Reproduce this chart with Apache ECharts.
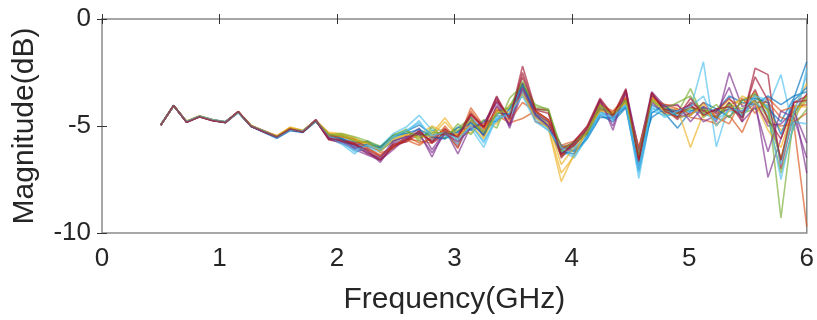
<!DOCTYPE html>
<html>
<head>
<meta charset="utf-8">
<script src="https://cdn.jsdelivr.net/npm/echarts@6/dist/echarts.min.js"></script>
<style>
  html, body { margin: 0; padding: 0; background: #ffffff; }
  #chart { width: 817px; height: 320px; }
</style>
</head>
<body>
<div id="chart"></div>
<script>
// Sweep frequencies (GHz), 0.5 to 6 GHz in 0.11 GHz steps
const freqGHz = [0.50,0.61,0.72,0.83,0.94,1.05,1.16,1.27,1.38,1.49,1.60,1.71,1.82,1.93,2.04,2.15,2.26,2.37,2.48,2.59,2.70,2.81,2.92,3.03,3.14,3.25,3.36,3.47,3.58,3.69,3.80,3.91,4.02,4.13,4.24,4.35,4.46,4.57,4.68,4.79,4.90,5.01,5.12,5.23,5.34,5.45,5.56,5.67,5.78,5.89,6.00];

const xTicks = [0, 1, 2, 3, 4, 5, 6];
const yTicks = [-10, -5, 0];

// Measured magnitude (dB) of each trace
const trace01 = [-4.95,-4.03,-4.82,-4.57,-4.74,-4.85,-4.38,-5.03,-5.30,-5.58,-5.22,-5.30,-4.80,-5.45,-5.55,-5.95,-5.70,-6.05,-5.55,-5.25,-4.95,-5.40,-5.35,-5.30,-4.60,-5.25,-4.70,-4.40,-3.30,-4.30,-5.00,-6.40,-6.10,-5.40,-4.30,-4.70,-4.05,-6.80,-4.00,-4.40,-5.10,-4.30,-4.10,-4.70,-3.90,-4.60,-3.50,-4.20,-4.80,-3.70,-2.00];
const trace02 = [-4.96,-4.06,-4.79,-4.54,-4.71,-4.80,-4.33,-4.98,-5.22,-5.47,-5.12,-5.23,-4.73,-5.50,-5.45,-5.60,-6.00,-6.40,-5.90,-5.60,-5.70,-5.80,-5.00,-5.70,-4.15,-5.00,-4.50,-4.85,-4.65,-4.30,-4.70,-5.90,-5.70,-5.20,-4.05,-4.45,-3.75,-6.20,-3.60,-4.10,-4.30,-4.00,-4.50,-4.40,-4.20,-4.50,-3.90,-4.85,-5.00,-4.90,-9.70];
const trace03 = [-4.94,-4.07,-4.77,-4.52,-4.70,-4.81,-4.36,-4.97,-5.24,-5.45,-5.05,-5.20,-4.72,-5.40,-5.50,-5.70,-5.85,-6.10,-5.75,-5.40,-5.45,-5.35,-4.62,-5.45,-5.00,-5.20,-4.20,-4.50,-3.40,-4.50,-5.10,-7.60,-6.30,-5.10,-4.20,-4.40,-3.70,-6.30,-3.55,-4.30,-4.20,-6.00,-4.40,-4.30,-3.80,-4.00,-3.40,-4.60,-6.50,-4.20,-3.00];
const trace04 = [-4.97,-4.05,-4.81,-4.56,-4.73,-4.84,-4.34,-5.02,-5.27,-5.52,-5.18,-5.27,-4.70,-5.60,-5.70,-5.90,-6.20,-6.70,-5.80,-5.60,-5.30,-6.45,-5.15,-6.30,-5.00,-5.00,-3.65,-5.10,-3.40,-4.60,-4.90,-6.00,-5.80,-5.30,-3.75,-5.20,-3.30,-6.10,-3.40,-4.05,-4.60,-4.40,-4.20,-4.80,-2.50,-4.10,-3.80,-7.40,-5.60,-4.00,-7.20];
const trace05 = [-4.95,-4.04,-4.80,-4.55,-4.72,-4.82,-4.35,-5.01,-5.26,-5.50,-5.15,-5.25,-4.76,-5.35,-5.40,-5.60,-5.80,-6.00,-5.40,-5.20,-5.60,-5.20,-5.45,-5.10,-4.60,-5.50,-4.30,-4.20,-3.00,-4.20,-4.30,-6.30,-5.90,-5.25,-4.10,-4.60,-3.90,-6.60,-3.80,-4.50,-4.40,-3.25,-4.60,-4.20,-4.10,-4.40,-4.20,-4.00,-9.30,-4.50,-3.80];
const trace06 = [-4.93,-4.06,-4.78,-4.53,-4.70,-4.79,-4.37,-4.99,-5.23,-5.53,-5.20,-5.22,-4.77,-5.55,-5.85,-6.30,-5.80,-5.95,-5.35,-5.05,-4.50,-5.20,-5.20,-5.70,-5.10,-6.00,-4.60,-4.30,-3.40,-4.70,-5.20,-6.10,-6.50,-5.50,-4.40,-4.70,-3.95,-7.45,-4.30,-4.50,-4.50,-4.20,-2.00,-5.97,-4.00,-4.50,-3.70,-4.10,-2.60,-5.20,-2.30];
const trace07 = [-4.96,-4.04,-4.83,-4.58,-4.75,-4.83,-4.32,-5.01,-5.28,-5.51,-5.13,-5.28,-4.74,-5.65,-5.75,-5.85,-6.30,-6.55,-6.00,-5.70,-5.20,-5.80,-5.40,-5.40,-4.40,-5.00,-3.60,-4.70,-2.20,-4.20,-4.25,-6.50,-5.70,-5.00,-3.70,-4.50,-3.25,-6.70,-3.45,-4.20,-4.70,-3.90,-4.30,-4.60,-3.90,-4.80,-2.30,-2.60,-7.00,-4.40,-3.50];
const trace08 = [-4.95,-4.05,-4.80,-4.55,-4.71,-4.81,-4.36,-5.00,-5.24,-5.49,-5.16,-5.24,-4.75,-5.50,-5.60,-5.75,-5.95,-6.15,-5.70,-5.50,-5.30,-5.55,-5.55,-5.05,-5.20,-4.75,-4.80,-4.20,-3.00,-4.50,-4.80,-5.90,-6.20,-5.60,-4.60,-4.60,-4.10,-6.30,-4.60,-4.20,-4.30,-4.30,-4.15,-4.30,-3.60,-3.90,-4.00,-3.60,-4.00,-3.60,-3.40];
const trace09 = [-4.96,-4.05,-4.81,-4.56,-4.73,-4.82,-4.34,-5.01,-5.25,-5.51,-5.14,-5.26,-4.74,-5.35,-5.65,-5.80,-5.75,-6.25,-6.05,-5.45,-5.80,-5.60,-5.10,-5.90,-4.70,-5.35,-4.10,-4.90,-3.20,-4.80,-5.00,-6.40,-5.95,-5.15,-4.25,-4.35,-3.70,-6.00,-3.70,-4.00,-4.20,-4.60,-4.70,-4.90,-4.50,-5.30,-3.90,-3.90,-4.60,-4.80,-4.40];
const trace10 = [-4.95,-4.04,-4.79,-4.54,-4.72,-4.83,-4.35,-4.99,-5.26,-5.50,-5.10,-5.24,-4.76,-5.30,-5.35,-5.55,-5.90,-6.05,-5.65,-5.35,-5.40,-5.00,-5.30,-5.45,-5.30,-4.90,-4.90,-4.00,-3.60,-4.40,-4.90,-6.80,-6.00,-5.30,-4.00,-4.50,-3.90,-6.40,-3.80,-4.30,-4.50,-4.10,-4.50,-4.40,-4.00,-3.80,-3.60,-4.30,-5.20,-4.70,-3.60];
const trace11 = [-4.95,-4.06,-4.80,-4.55,-4.73,-4.82,-4.35,-5.00,-5.25,-5.52,-5.17,-5.25,-4.73,-5.60,-5.80,-6.10,-6.35,-6.60,-6.10,-5.55,-5.10,-6.10,-5.25,-6.00,-4.80,-5.45,-4.05,-4.95,-3.00,-4.40,-4.80,-6.10,-5.75,-5.35,-4.15,-4.60,-3.80,-6.30,-3.90,-4.40,-4.30,-4.00,-4.80,-4.50,-4.20,-4.30,-3.80,-5.00,-4.90,-4.30,-5.80];
const trace12 = [-4.94,-4.05,-4.79,-4.54,-4.71,-4.81,-4.35,-5.00,-5.24,-5.49,-5.14,-5.24,-4.76,-5.45,-5.35,-5.50,-5.70,-5.95,-5.50,-5.15,-5.70,-5.05,-5.60,-4.90,-5.40,-4.70,-5.10,-3.70,-3.10,-4.00,-4.25,-6.00,-5.80,-5.40,-4.20,-4.40,-3.80,-6.20,-3.70,-4.25,-4.40,-4.20,-4.20,-4.60,-4.00,-4.20,-3.80,-4.60,-7.20,-5.00,-4.20];
const trace13 = [-4.95,-4.04,-4.80,-4.55,-4.72,-4.82,-4.35,-5.01,-5.26,-5.51,-5.16,-5.26,-4.75,-5.50,-5.70,-6.20,-6.05,-6.20,-5.60,-5.30,-4.75,-5.65,-5.45,-5.85,-4.90,-5.80,-4.50,-4.60,-3.50,-4.60,-5.10,-6.20,-6.00,-5.50,-4.35,-4.55,-4.00,-6.90,-4.20,-4.30,-4.50,-4.30,-4.40,-4.70,-4.30,-4.50,-3.90,-4.40,-7.50,-4.80,-4.90];
const trace14 = [-4.96,-4.04,-4.81,-4.56,-4.73,-4.83,-4.34,-5.01,-5.27,-5.50,-5.16,-5.27,-4.74,-5.60,-5.65,-5.80,-6.10,-6.45,-5.85,-5.75,-5.35,-5.70,-5.15,-5.55,-4.50,-5.10,-3.85,-4.55,-2.70,-4.30,-4.70,-6.30,-5.90,-5.20,-3.90,-4.55,-3.50,-6.50,-3.60,-4.20,-4.40,-4.10,-4.30,-4.30,-3.70,-4.40,-3.30,-4.70,-5.60,-3.90,-3.60];
const trace15 = [-4.95,-4.05,-4.80,-4.56,-4.72,-4.83,-4.36,-5.02,-5.27,-5.54,-5.19,-5.28,-4.77,-5.40,-5.60,-6.05,-5.85,-6.00,-5.45,-5.35,-5.15,-5.50,-5.60,-5.25,-4.85,-5.40,-4.40,-4.45,-3.10,-4.45,-5.05,-6.20,-6.30,-5.55,-4.50,-4.80,-4.15,-7.10,-4.40,-4.00,-4.60,-4.50,-3.90,-4.20,-4.60,-3.80,-3.70,-3.90,-5.40,-3.80,-3.20];
const trace16 = [-4.96,-4.04,-4.79,-4.55,-4.71,-4.81,-4.34,-4.99,-5.23,-5.48,-5.11,-5.24,-4.72,-5.45,-5.50,-5.65,-6.05,-6.35,-5.95,-5.65,-5.90,-5.50,-5.20,-6.05,-4.30,-5.15,-4.25,-4.75,-3.90,-4.30,-4.75,-6.00,-5.85,-5.10,-4.00,-4.30,-3.65,-6.10,-3.70,-4.00,-4.05,-4.50,-3.90,-4.60,-4.90,-3.70,-4.40,-3.70,-4.30,-4.10,-4.00];
const trace17 = [-4.94,-4.06,-4.78,-4.53,-4.71,-4.82,-4.36,-4.98,-5.25,-5.47,-5.07,-5.21,-4.74,-5.35,-5.45,-5.65,-5.80,-6.20,-5.60,-5.40,-5.55,-5.45,-4.80,-5.50,-4.95,-5.60,-4.35,-4.35,-3.50,-4.60,-5.10,-7.20,-6.40,-5.20,-4.30,-4.40,-3.90,-6.20,-3.65,-4.35,-4.60,-4.50,-4.00,-5.00,-4.30,-3.60,-3.90,-5.20,-6.00,-4.10,-4.10];
const trace18 = [-4.96,-4.05,-4.81,-4.56,-4.74,-4.84,-4.34,-5.02,-5.28,-5.52,-5.19,-5.28,-4.71,-5.55,-5.75,-6.00,-6.25,-6.50,-5.70,-5.50,-5.40,-6.25,-5.35,-5.75,-5.10,-4.85,-3.90,-5.00,-3.20,-4.50,-5.00,-6.10,-5.85,-5.15,-3.80,-5.00,-3.40,-6.20,-3.55,-4.10,-4.00,-4.80,-4.10,-4.40,-3.20,-4.80,-4.10,-6.20,-4.30,-4.60,-6.50];
const trace19 = [-4.95,-4.05,-4.80,-4.55,-4.72,-4.82,-4.35,-5.00,-5.25,-5.50,-5.14,-5.25,-4.76,-5.40,-5.45,-5.70,-5.75,-6.10,-5.45,-5.25,-5.50,-5.30,-5.35,-5.20,-4.75,-5.30,-4.45,-4.10,-2.90,-4.10,-4.20,-6.20,-5.75,-5.30,-4.00,-4.50,-3.80,-6.40,-3.80,-4.20,-3.90,-3.60,-4.40,-4.00,-4.60,-3.80,-3.50,-4.30,-6.60,-4.40,-3.60];
const trace20 = [-4.94,-4.06,-4.79,-4.54,-4.71,-4.80,-4.37,-5.00,-5.24,-5.52,-5.19,-5.23,-4.76,-5.50,-5.80,-6.15,-5.90,-6.10,-5.50,-5.20,-4.85,-5.45,-5.30,-5.60,-5.00,-5.70,-4.70,-4.40,-3.60,-4.80,-5.20,-6.00,-6.40,-5.60,-4.45,-4.60,-4.05,-7.20,-4.10,-4.60,-4.30,-4.10,-3.60,-5.00,-4.20,-4.30,-3.60,-3.80,-6.80,-4.40,-2.60];
const trace21 = [-4.96,-4.04,-4.82,-4.57,-4.74,-4.83,-4.33,-5.01,-5.27,-5.51,-5.14,-5.27,-4.74,-5.55,-5.70,-5.85,-6.15,-6.60,-5.95,-5.65,-5.25,-5.75,-5.30,-5.50,-4.45,-5.05,-3.75,-4.65,-2.50,-4.25,-4.40,-6.35,-5.75,-5.05,-3.80,-4.50,-3.35,-6.60,-3.45,-4.30,-4.60,-3.70,-4.50,-4.20,-4.10,-4.60,-2.70,-3.80,-6.60,-3.90,-3.80];

const traces = [trace01, trace02, trace03, trace04, trace05, trace06, trace07,
                trace08, trace09, trace10, trace11, trace12, trace13, trace14,
                trace15, trace16, trace17, trace18, trace19, trace20, trace21];

// Default line colour order
const lineColors = ['#0072BD', '#D95319', '#EDB120', '#7E2F8E', '#77AC30', '#4DBEEE', '#A2142F'];

const chart = echarts.init(document.getElementById('chart'), null, { renderer: 'canvas' });

const textColor = '#262626';
const fontFamily = '"Liberation Sans", Arial, Helvetica, sans-serif';

const tickStyle = { show: true, inside: true, length: 5, lineStyle: { color: '#333333', width: 1 } };

const option = {
  animation: false,
  backgroundColor: '#ffffff',
  grid: {
    left: 102, right: 10, top: 19, bottom: 87,
    show: true, borderColor: '#8a8a8a', borderWidth: 1.5, backgroundColor: 'transparent'
  },
  xAxis: [
    {
      type: 'value', position: 'bottom',
      min: xTicks[0], max: xTicks[xTicks.length - 1], interval: 1,
      axisLine: { show: false },
      axisTick: tickStyle,
      splitLine: { show: false },
      axisLabel: { color: textColor, fontSize: 26, fontFamily: fontFamily, margin: 13 },
      name: 'Frequency(GHz)', nameLocation: 'middle', nameGap: 52,
      nameTextStyle: { color: textColor, fontSize: 30, fontFamily: fontFamily }
    },
    {
      type: 'value', position: 'top',
      min: xTicks[0], max: xTicks[xTicks.length - 1], interval: 1,
      axisLine: { show: false },
      axisTick: tickStyle,
      splitLine: { show: false },
      axisLabel: { show: false }
    }
  ],
  yAxis: [
    {
      type: 'value', position: 'left',
      min: yTicks[0], max: yTicks[yTicks.length - 1], interval: 5,
      axisLine: { show: false },
      axisTick: tickStyle,
      splitLine: { show: false },
      axisLabel: { color: textColor, fontSize: 26, fontFamily: fontFamily, margin: 11 },
      name: 'Magnitude(dB)', nameLocation: 'middle', nameGap: 62, nameRotate: 90,
      nameTextStyle: { color: textColor, fontSize: 30, fontFamily: fontFamily }
    },
    {
      type: 'value', position: 'right',
      min: yTicks[0], max: yTicks[yTicks.length - 1], interval: 5,
      axisLine: { show: false },
      axisTick: tickStyle,
      splitLine: { show: false },
      axisLabel: { show: false }
    }
  ],
  series: traces.map((vals, i) => ({
    type: 'line',
    xAxisIndex: 0,
    yAxisIndex: 0,
    data: freqGHz.map((f, k) => [f, vals[k]]),
    showSymbol: false,
    symbol: 'none',
    lineStyle: { color: lineColors[i % lineColors.length], width: 1.6, opacity: 0.65 },
    z: 2
  }))
};

chart.setOption(option);
</script>
</body>
</html>
